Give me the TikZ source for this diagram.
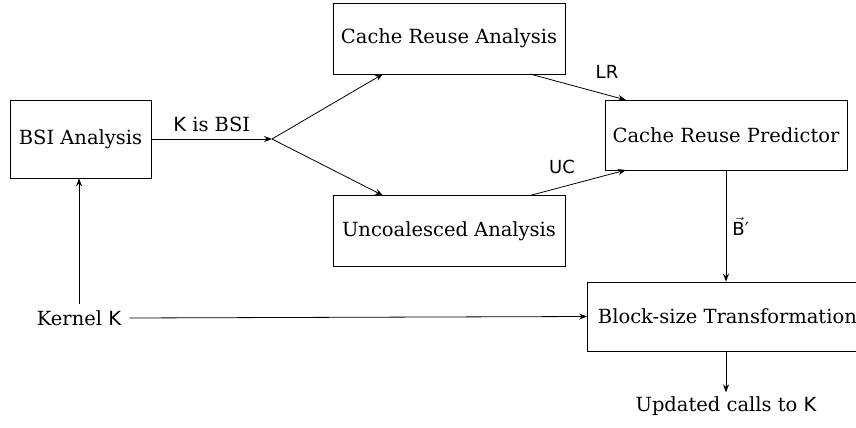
\documentclass[tikz,border=0pt]{standalone}
\usepackage{fontspec}
\setmainfont{DejaVu Serif}
\newfontfamily\lblfont{DejaVu Sans}
\usetikzlibrary{arrows.meta}
\begin{document}
\begin{tikzpicture}[x=1pt,y=-1pt,
  box/.style={draw,line width=0.8pt,inner sep=0pt,font=\fontsize{19.5}{23}\selectfont},
  txt/.style={inner sep=0pt,font=\fontsize{19.5}{23}\selectfont},
  lbl/.style={inner sep=0pt,font=\fontsize{18}{22}\selectfont\lblfont},
  arr/.style={line width=0.8pt,-{Stealth[length=8pt,width=6pt]}}]
\useasboundingbox (0,0) rectangle (856,428);
\clip (0,0) rectangle (856,428);
\node[box,minimum width=141pt,minimum height=78pt] (bsi) at (80.5,139) {BSI Analysis};
\node[box,minimum width=232pt,minimum height=71pt] (cra) at (449,38.5) {Cache Reuse Analysis};
\node[box,minimum width=232pt,minimum height=71pt] (unc) at (449,231) {Uncoalesced Analysis};
\node[box,minimum width=242pt,minimum height=70pt] (crp) at (726,135) {Cache Reuse Predictor};
\node[box,minimum width=280pt,minimum height=69pt,anchor=west] (bst) at (587,316.5) {Block-size Transformation};
\node[txt] (ker) at (79,318) {Kernel {\lblfont K}};
\node[txt] (upd) at (726,406) {Updated calls to {\lblfont K}};
\coordinate (fork) at (272,139);
\draw[arr] (bsi.east) -- node[above=7pt,txt] {{\lblfont K} is BSI} (fork);
\draw[arr] (fork) -- (383,74);
\draw[arr] (fork) -- (383,195.5);
\draw[arr] (530,74) -- (626,100);
\draw[arr] (530,195.5) -- (626,170);
\node[lbl] (lr) at (607,72) {LR};
\node[lbl] (uc) at (562,167) {UC};
\draw[arr] (crp.south) -- node[right=6pt,lbl] {$\vec{\hbox{\lblfont B}}$\lblfont ′} (bst.north -| crp.south);
\draw[arr] ([yshift=6pt]ker.north) -- (bsi.south -| ker.north);
\draw[arr] ([xshift=8pt]ker.east) -- (bst.west);
\draw[arr] (bst.south -| crp.south) -- ([yshift=4pt]upd.north);
\end{tikzpicture}
\end{document}
